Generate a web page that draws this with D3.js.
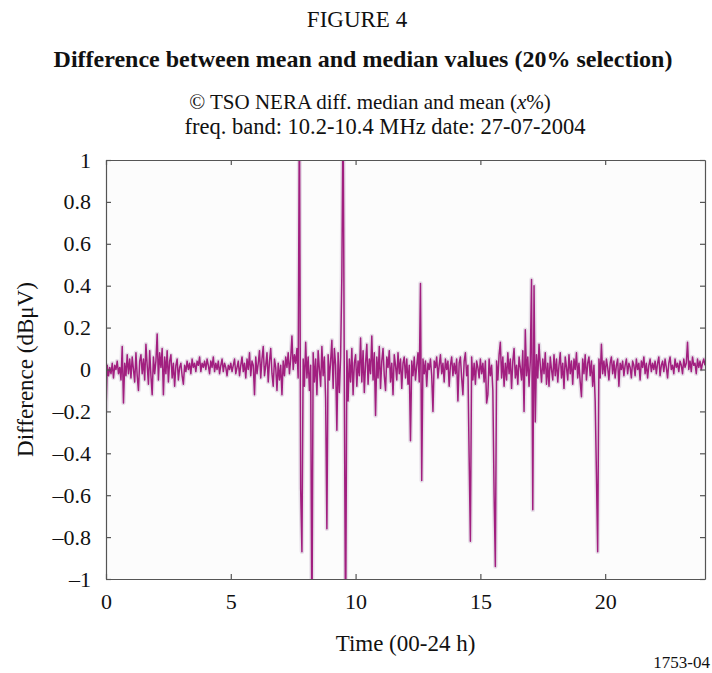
<!DOCTYPE html>
<html>
<head>
<meta charset="utf-8">
<script src="https://cdn.jsdelivr.net/npm/d3@7/dist/d3.min.js"></script>
<style>
  body { margin: 0; background: #fff; }
  text { font-family: "Liberation Serif", "Times New Roman", serif; fill: #111; }
</style>
</head>
<body>
<svg id="chart" width="712" height="673"></svg>
<script>
// Difference between mean and median (dBuV), one sample every 0.05 h, 00:00 -> 24:00
const timeStep = 0.05;
const diffValues = [
  // 0 h
  -0.20, 0.02, -0.03, 0.01, -0.02, 0.03, -0.04, 0.02, 0.00, 0.04, -0.02, 0.01, -0.05, 0.11, -0.16, 0.03, -0.03, 0.07, -0.02, 0.05,
  // 1 h
  -0.04, 0.06, 0.00, -0.06, 0.08, -0.03, -0.10, 0.04, 0.07, -0.02, 0.05, -0.05, 0.12, 0.02, -0.07, 0.09, -0.03, -0.12, 0.06, -0.02,
  // 2 h
  0.04, 0.17, -0.05, 0.08, 0.01, 0.10, -0.12, 0.06, -0.02, 0.09, -0.06, 0.04, 0.07, -0.04, 0.03, -0.08, 0.02, 0.05, -0.05, 0.01,
  // 3 h
  0.03, -0.03, -0.07, 0.02, -0.01, 0.04, 0.00, 0.03, -0.02, 0.05, 0.01, 0.03, -0.01, 0.04, 0.02, 0.06, -0.01, 0.03, 0.01, 0.04,
  // 4 h
  0.00, 0.05, 0.02, -0.02, 0.04, 0.01, 0.06, -0.01, 0.03, 0.00, 0.04, -0.02, 0.02, 0.05, -0.01, 0.03, 0.01, -0.03, 0.02, 0.00,
  // 5 h
  0.03, -0.01, 0.02, 0.05, -0.02, 0.01, 0.04, -0.03, 0.02, 0.06, -0.01, 0.03, -0.04, 0.05, 0.00, 0.08, -0.03, 0.04, 0.02, -0.12,
  // 6 h
  0.06, -0.02, 0.03, 0.09, -0.04, 0.05, 0.11, -0.03, 0.02, 0.08, -0.06, 0.04, 0.10, -0.02, -0.08, 0.05, 0.01, -0.10, 0.03, -0.05,
  // 7 h
  0.02, -0.12, 0.04, -0.03, 0.06, 0.01, 0.08, -0.02, 0.05, 0.16, 0.00, 0.07, 0.03, 0.10, -0.04, 1.30, -0.57, -0.87, 0.05, -0.08,
  // 8 h
  0.13, -0.04, 0.06, -0.10, 0.02, -1.30, 0.08, -0.06, 0.05, -0.12, 0.09, 0.00, -0.08, 0.11, -0.03, 0.06, -0.14, -0.76, 0.07, -0.05,
  // 9 h
  0.04, 0.14, -0.09, 0.10, 0.02, -0.29, 0.08, -0.11, 0.06, 0.45, 1.30, -0.10, -1.30, 0.09, -0.15, 0.05, -0.06, 0.10, -0.12, 0.03,
  // 10 h
  0.07, -0.08, 0.04, -0.03, 0.15, -0.06, 0.09, -0.11, 0.03, 0.12, -0.07, 0.05, -0.02, 0.16, -0.05, 0.08, -0.22, 0.06, -0.04, 0.11,
  // 11 h
  -0.09, 0.04, 0.10, -0.03, -0.10, 0.06, 0.01, 0.09, -0.06, 0.03, -0.12, 0.07, 0.02, -0.05, 0.08, -0.02, 0.05, -0.09, 0.03, 0.06,
  // 12 h
  -0.04, 0.05, -0.07, 0.02, -0.34, 0.04, -0.03, 0.06, -0.05, 0.02, 0.08, -0.06, 0.41, -0.53, 0.05, -0.02, 0.04, -0.08, 0.03, 0.00,
  // 13 h
  0.05, -0.03, -0.20, 0.04, 0.01, 0.06, -0.04, 0.02, 0.07, -0.02, 0.03, -0.06, 0.05, 0.00, 0.04, -0.08, 0.02, 0.06, -0.03, 0.03,
  // 14 h
  -0.02, 0.05, -0.15, 0.03, 0.06, -0.04, -0.12, 0.04, 0.08, -0.03, 0.02, -0.42, -0.82, 0.06, -0.05, 0.03, -0.07, 0.04, 0.01, -0.04,
  // 15 h
  0.05, -0.02, 0.03, -0.06, 0.04, -0.16, -0.12, 0.05, -0.03, 0.02, -0.10, -0.60, -0.94, 0.04, -0.05, 0.07, 0.13, -0.04, 0.06, -0.08,
  // 16 h
  0.03, -0.05, 0.08, -0.02, 0.05, -0.09, 0.04, 0.10, -0.04, 0.02, -0.07, 0.06, 0.01, -0.05, 0.09, -0.20, 0.19, -0.03, 0.06, -0.08,
  // 17 h
  0.04, 0.43, -0.67, 0.40, -0.25, 0.07, -0.04, 0.12, 0.02, -0.06, 0.05, -0.02, 0.08, -0.07, 0.03, -0.08, 0.06, 0.00, -0.05, 0.07,
  // 18 h
  -0.03, 0.05, -0.06, 0.02, 0.08, -0.04, 0.03, -0.09, 0.06, 0.01, -0.05, 0.07, -0.02, 0.04, -0.07, 0.05, 0.00, 0.08, -0.04, 0.03,
  // 19 h
  -0.06, -0.13, 0.05, -0.02, 0.07, -0.05, 0.03, 0.06, -0.03, 0.04, -0.08, 0.02, -0.15, -0.50, -0.87, 0.05, -0.04, 0.12, -0.02, 0.04,
  // 20 h
  -0.03, 0.05, 0.01, -0.05, 0.03, 0.06, -0.02, 0.04, -0.04, 0.02, 0.05, -0.08, 0.03, 0.00, 0.04, -0.03, 0.02, 0.05, -0.02, 0.03,
  // 21 h
  0.01, -0.04, 0.04, 0.02, -0.03, 0.05, 0.00, 0.03, -0.05, 0.04, 0.01, 0.06, -0.02, 0.03, -0.04, 0.02, 0.05, -0.01, 0.03, 0.00,
  // 22 h
  0.04, -0.02, 0.03, 0.06, -0.03, 0.02, 0.04, -0.01, 0.05, 0.01, -0.04, 0.03, 0.06, 0.00, 0.02, -0.02, 0.05, 0.01, 0.03, -0.01,
  // 23 h
  0.04, 0.02, -0.02, 0.05, 0.01, 0.03, 0.13, 0.00, 0.04, -0.01, 0.06, 0.02, 0.03, -0.02, 0.05, 0.01, 0.04, 0.00, 0.03, 0.05,
  // 24 h
  0.02
];

const xTickValues = [0, 5, 10, 15, 20];
const yTickValues = [-1, -0.8, -0.6, -0.4, -0.2, 0, 0.2, 0.4, 0.6, 0.8, 1];
const yTickLabels = ["\u20131", "\u20130.8", "\u20130.6", "\u20130.4", "\u20130.2", "0", "0.2", "0.4", "0.6", "0.8", "1"];

let svg = d3.select("#chart");

let plotL = 106, plotT = 160, plotW = 599, plotH = 419;

let xScale = d3.scaleLinear().domain([0, 24]).range([plotL, plotL + plotW]);
let yScale = d3.scaleLinear().domain([-1, 1]).range([plotT + plotH, plotT]);

let points = diffValues.map((v, i) => ({ t: i * timeStep, v: v }));

// titles
svg.append("text").attr("x", 357).attr("y", 27).attr("text-anchor", "middle")
  .style("font-size", "23px").text("FIGURE 4");
svg.append("text").attr("x", 363).attr("y", 67).attr("text-anchor", "middle")
  .style("font-size", "24px").style("font-weight", "bold")
  .text("Difference between mean and median values (20% selection)");

let sub1 = svg.append("text").attr("x", 370).attr("y", 109).attr("text-anchor", "middle")
  .style("font-size", "21px");
sub1.append("tspan").text("\u00A9 TSO NERA diff. median and mean (");
sub1.append("tspan").style("font-style", "italic").text("x");
sub1.append("tspan").text("%)");
svg.append("text").attr("x", 385).attr("y", 134).attr("text-anchor", "middle")
  .style("font-size", "22.5px").text("freq. band: 10.2-10.4 MHz date: 27-07-2004");

// plot background
svg.append("rect").attr("x", plotL).attr("y", plotT).attr("width", plotW).attr("height", plotH)
  .attr("fill", "#fcfcfc");

svg.append("clipPath").attr("id", "plotClip")
  .append("rect").attr("x", plotL).attr("y", plotT).attr("width", plotW).attr("height", plotH);

let line = d3.line().x(d => xScale(d.t)).y(d => yScale(d.v));

let plotG = svg.append("g").attr("clip-path", "url(#plotClip)");
// soft halo like the printed figure
plotG.append("path").datum(points)
  .attr("d", line).attr("fill", "none")
  .attr("stroke", "#e6dfe8").attr("stroke-width", 4.5).attr("stroke-linejoin", "round");
plotG.append("path").datum(points)
  .attr("d", line).attr("fill", "none")
  .attr("stroke", "#a11f7f").attr("stroke-width", 1.5).attr("stroke-linejoin", "round");

// axes, MATLAB style box with inward ticks
let axisColor = "#555";
let bottomAxis = d3.axisBottom(xScale).tickValues(xTickValues).tickSizeInner(-5).tickSizeOuter(0).tickPadding(14);
let topAxis = d3.axisTop(xScale).tickValues(xTickValues).tickSizeInner(-5).tickSizeOuter(0).tickFormat("");
let leftAxis = d3.axisLeft(yScale).tickValues(yTickValues).tickSizeInner(-5).tickSizeOuter(0).tickPadding(15)
  .tickFormat((d, i) => yTickLabels[i]);
let rightAxis = d3.axisRight(yScale).tickValues(yTickValues).tickSizeInner(-5).tickSizeOuter(0).tickFormat("");

function styleAxis(g) {
  g.select(".domain").attr("stroke", axisColor).attr("stroke-width", 1.2);
  g.selectAll(".tick line").attr("stroke", axisColor).attr("stroke-width", 1.2);
  g.selectAll(".tick text").attr("fill", "#111")
    .style("font-family", "'Liberation Serif', 'Times New Roman', serif").style("font-size", "22px");
}

svg.append("g").attr("transform", `translate(0,${plotT + plotH})`).call(bottomAxis).call(styleAxis);
svg.append("g").attr("transform", `translate(0,${plotT})`).call(topAxis).call(styleAxis);
svg.append("g").attr("transform", `translate(${plotL},0)`).call(leftAxis).call(styleAxis);
svg.append("g").attr("transform", `translate(${plotL + plotW},0)`).call(rightAxis).call(styleAxis);

// axis titles
svg.append("text").attr("x", plotL + plotW / 2).attr("y", 651).attr("text-anchor", "middle")
  .style("font-size", "23px").text("Time (00-24 h)");
svg.append("text").attr("transform", `translate(33,${plotT + plotH / 2}) rotate(-90)`)
  .attr("text-anchor", "middle").style("font-size", "23px").text("Difference (dB\u03BCV)");

svg.append("text").attr("x", 710).attr("y", 668).attr("text-anchor", "end")
  .style("font-size", "17px").text("1753-04");
</script>
</body>
</html>
